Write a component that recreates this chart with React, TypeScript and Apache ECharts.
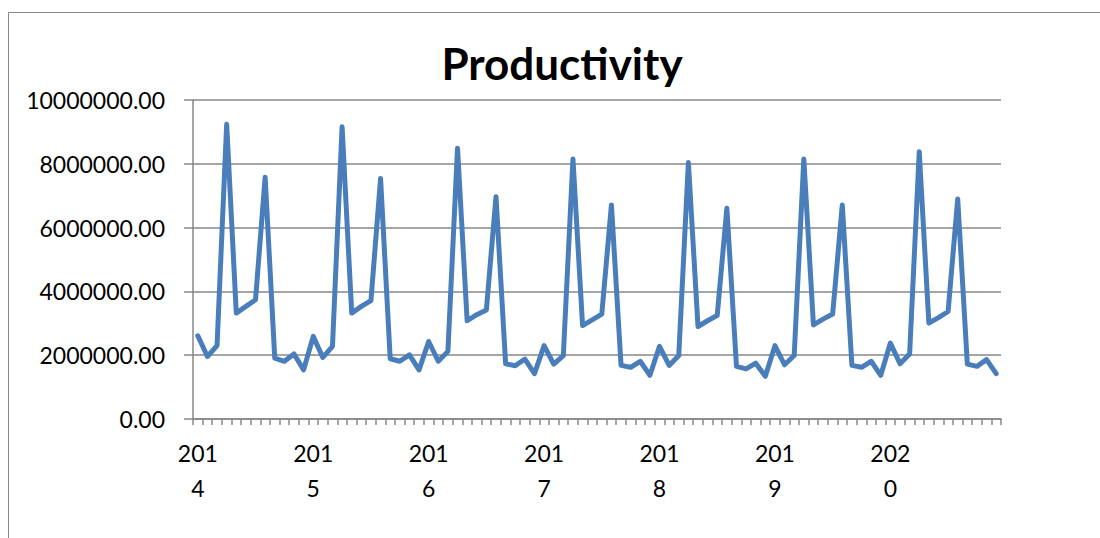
import React, { useEffect, useRef } from "react";
import * as echarts from "echarts";

// Calendar years shown on the category axis (12 monthly points each)
const years = ["2014", "2015", "2016", "2017", "2018", "2019", "2020"];
const monthsPerYear = 12;

// Monthly productivity values, one array per year
const values2014 = [2610000, 1960000, 2300000, 9240000, 3320000, 3530000, 3740000, 7580000, 1910000, 1810000, 2040000, 1540000];
const values2015 = [2590000, 1930000, 2280000, 9160000, 3320000, 3530000, 3710000, 7540000, 1890000, 1810000, 2010000, 1540000];
const values2016 = [2430000, 1810000, 2120000, 8490000, 3080000, 3270000, 3420000, 6970000, 1730000, 1670000, 1880000, 1420000];
const values2017 = [2300000, 1720000, 1990000, 8150000, 2930000, 3110000, 3290000, 6710000, 1680000, 1620000, 1810000, 1370000];
const values2018 = [2280000, 1680000, 1990000, 8040000, 2900000, 3080000, 3250000, 6610000, 1650000, 1570000, 1750000, 1340000];
const values2019 = [2300000, 1700000, 1990000, 8150000, 2950000, 3130000, 3290000, 6710000, 1680000, 1620000, 1810000, 1370000];
const values2020 = [2380000, 1730000, 2040000, 8380000, 3010000, 3180000, 3370000, 6900000, 1720000, 1650000, 1860000, 1420000];

// Value-axis settings
const yMin = 0;
const yMax = 10000000;
const yInterval = 2000000;

const seriesValues = [
  ...values2014,
  ...values2015,
  ...values2016,
  ...values2017,
  ...values2018,
  ...values2019,
  ...values2020,
];

const categories: string[] = [];
years.forEach((y) => {
  for (let m = 1; m <= monthsPerYear; m++) {
    categories.push(`${y}-${String(m).padStart(2, "0")}`);
  }
});

const FONT = "Lato, 'Noto Sans', sans-serif";
const AXIS_GRAY = "#878787";

export default function App() {
  const ref = useRef<HTMLDivElement>(null);

  useEffect(() => {
    if (!ref.current) return;
    const chart = echarts.init(ref.current, undefined, { renderer: "svg" });
    chart.setOption({
      animation: false,
      backgroundColor: "#ffffff",
      title: {
        text: "Productivity",
        left: 557,
        top: 36,
        textAlign: "center",
        textStyle: {
          fontFamily: FONT,
          fontWeight: "bold",
          fontSize: 44,
          color: "#000000",
        },
      },
      graphic: [
        {
          type: "rect",
          shape: { x: 8.5, y: 12.5, width: 1200, height: 600 },
          style: { fill: "none", stroke: AXIS_GRAY, lineWidth: 1 },
          silent: true,
        },
      ],
      grid: { left: 193, right: 99, top: 100, bottom: 119, containLabel: false },
      xAxis: {
        type: "category",
        data: categories,
        boundaryGap: true,
        axisLine: { show: true, lineStyle: { color: AXIS_GRAY, width: 1.5 } },
        axisTick: {
          show: true,
          interval: 0,
          length: 6,
          inside: false,
          alignWithLabel: false,
          lineStyle: { color: AXIS_GRAY, width: 1.5 },
        },
        axisLabel: {
          interval: (index: number) => index % monthsPerYear === 0,
          formatter: (val: string) => {
            const y = val.slice(0, 4);
            return `${y.slice(0, 3)}\n${y.slice(3)}`;
          },
          fontFamily: FONT,
          fontSize: 23,
          lineHeight: 35,
          color: "#000000",
          margin: 16,
        },
        splitLine: { show: false },
      },
      yAxis: {
        type: "value",
        min: yMin,
        max: yMax,
        interval: yInterval,
        axisLine: { show: true, lineStyle: { color: AXIS_GRAY, width: 1.5 } },
        axisTick: { show: true, length: 9, lineStyle: { color: AXIS_GRAY, width: 1.5 } },
        axisLabel: {
          formatter: (v: number) => v.toFixed(2),
          fontFamily: FONT,
          fontSize: 23,
          color: "#000000",
          margin: 28,
        },
        splitLine: { show: true, lineStyle: { color: AXIS_GRAY, width: 1.5 } },
      },
      series: [
        {
          name: "Productivity",
          type: "line",
          data: seriesValues,
          showSymbol: false,
          symbol: "none",
          lineStyle: { color: "#4a7ebb", width: 5, join: "round", cap: "round" },
          itemStyle: { color: "#4a7ebb" },
        },
      ],
    });
    return () => chart.dispose();
  }, []);

  return (
    <div
      ref={ref}
      style={{ position: "absolute", left: 0, top: 0, width: 1100, height: 538 }}
    />
  );
}
